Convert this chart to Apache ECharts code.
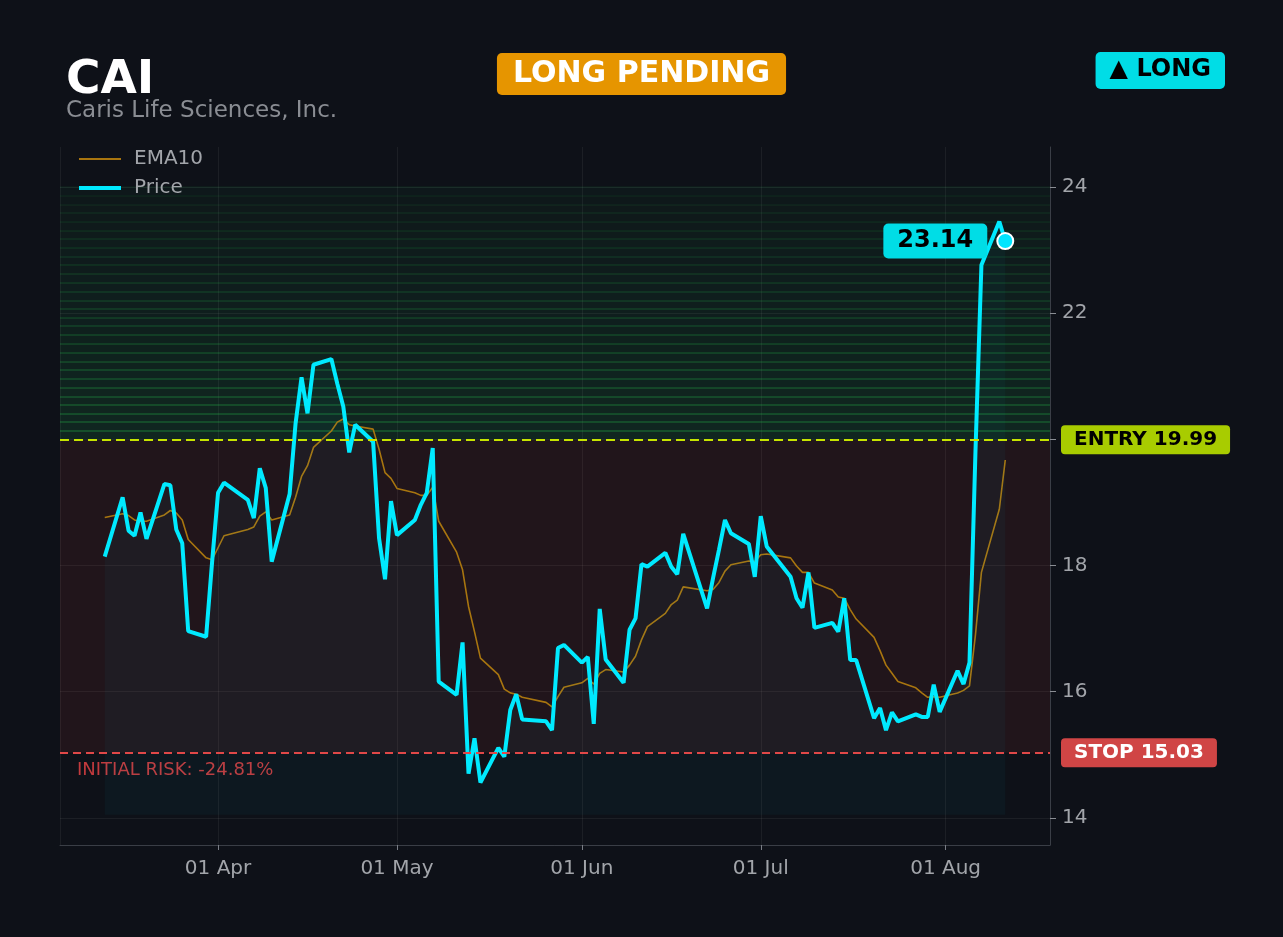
<!DOCTYPE html>
<html>
<head>
<meta charset="utf-8">
<script src="https://cdn.jsdelivr.net/npm/echarts@6/dist/echarts.min.js"></script>
<style>
html,body{margin:0;padding:0;background:#0e1118;}
#main{width:1283px;height:937px;}
</style>
</head>
<body>
<div id="main"></div>
<script>
// trading days (2026)
var dates = [
  '2026-03-13','2026-03-16','2026-03-17','2026-03-18','2026-03-19','2026-03-20','2026-03-23','2026-03-24','2026-03-25','2026-03-26','2026-03-27','2026-03-30','2026-03-31',
  '2026-04-01','2026-04-02','2026-04-06','2026-04-07','2026-04-08','2026-04-09','2026-04-10','2026-04-13','2026-04-14','2026-04-15','2026-04-16','2026-04-17','2026-04-20','2026-04-21','2026-04-22','2026-04-23','2026-04-24','2026-04-27','2026-04-28','2026-04-29','2026-04-30',
  '2026-05-01','2026-05-04','2026-05-05','2026-05-06','2026-05-07','2026-05-08','2026-05-11','2026-05-12','2026-05-13','2026-05-14','2026-05-15','2026-05-18','2026-05-19','2026-05-20','2026-05-21','2026-05-22','2026-05-26','2026-05-27','2026-05-28','2026-05-29',
  '2026-06-01','2026-06-02','2026-06-03','2026-06-04','2026-06-05','2026-06-08','2026-06-09','2026-06-10','2026-06-11','2026-06-12','2026-06-15','2026-06-16','2026-06-17','2026-06-18','2026-06-22','2026-06-23','2026-06-24','2026-06-25','2026-06-26','2026-06-29','2026-06-30',
  '2026-07-01','2026-07-02','2026-07-06','2026-07-07','2026-07-08','2026-07-09','2026-07-10','2026-07-13','2026-07-14','2026-07-15','2026-07-16','2026-07-17','2026-07-20','2026-07-21','2026-07-22','2026-07-23','2026-07-24','2026-07-27','2026-07-28','2026-07-29','2026-07-30','2026-07-31',
  '2026-08-03','2026-08-04','2026-08-05','2026-08-06','2026-08-07','2026-08-10','2026-08-11'
];
var price = [
  18.14,19.08,18.55,18.47,18.84,18.42,19.29,19.27,18.57,18.35,16.96,16.87,18.05,
  19.15,19.31,19.04,18.75,19.54,19.23,18.06,19.13,20.25,20.98,20.41,21.18,21.27,20.88,20.52,19.79,20.23,19.96,18.43,17.78,19.02,
  18.48,18.72,18.96,19.15,19.86,16.16,15.95,16.78,14.70,15.26,14.56,15.11,14.97,15.71,15.96,15.56,15.53,15.39,16.69,16.74,
  16.46,16.55,15.49,17.31,16.51,16.14,16.98,17.16,18.02,17.98,18.20,17.98,17.86,18.50,17.32,17.80,18.25,18.72,18.51,18.34,17.82,
  18.78,18.30,17.82,17.48,17.33,17.89,17.01,17.09,16.95,17.48,16.50,16.50,15.58,15.74,15.39,15.67,15.53,15.64,15.60,15.60,16.11,15.68,
  16.33,16.12,16.46,19.80,22.76,23.45,23.14
];
var ema10 = [
  18.76,18.82,18.79,18.72,18.70,18.70,18.80,18.87,18.83,18.72,18.41,18.12,18.09,
  18.28,18.47,18.57,18.61,18.78,18.85,18.72,18.80,19.08,19.41,19.58,19.87,20.13,20.27,20.32,20.23,20.21,20.16,19.84,19.47,19.38,
  19.22,19.15,19.11,19.11,19.24,18.70,18.21,17.93,17.35,16.95,16.53,16.27,16.04,15.98,15.96,15.91,15.83,15.76,15.92,16.07,
  16.14,16.21,16.12,16.29,16.35,16.31,16.42,16.56,16.82,17.03,17.24,17.38,17.45,17.66,17.60,17.62,17.73,17.91,18.01,18.07,18.06,
  18.17,18.18,18.12,17.99,17.89,17.89,17.72,17.61,17.50,17.48,17.30,17.15,16.86,16.65,16.42,16.29,16.16,16.06,15.98,15.91,15.92,15.91,
  15.98,16.02,16.09,16.90,17.89,18.89,19.67
];
var ticker = 'CAI';
var company = 'Caris Life Sciences, Inc.';
var status = 'LONG PENDING';
var side = '▲ LONG';
var entryPrice = 19.99;
var stopPrice = 15.03;
var targetTop = 24;
var riskPct = -24.81;

var font = 'DejaVu Sans';
var myChart = echarts.init(document.getElementById('main'));

var priceData = dates.map(function (d, i) { return [d, price[i]]; });
var emaData = dates.map(function (d, i) { return [d, ema10[i]]; });
var last = dates.length - 1;

// risk zone + green target zone drawn as stacked bands, fading upwards
var areas = [[{ yAxis: stopPrice, itemStyle: { color: 'rgba(239,68,68,0.085)' } }, { yAxis: entryPrice }]];
var stripes = [];
var nBands = 29;
for (var i = 0; i < nBands; i++) {
    var lo = entryPrice + (targetTop - entryPrice) * i / nBands;
    var hi = entryPrice + (targetTop - entryPrice) * (i + 1) / nBands;
    var t = i / (nBands - 1);
    var a = 0.12 - 0.08 * t;
    areas.push([{ yAxis: lo, itemStyle: { color: 'rgba(34,197,94,' + a.toFixed(3) + ')' } }, { yAxis: hi }]);
    stripes.push({
        yAxis: hi,
        lineStyle: { color: 'rgba(40,200,80,' + (0.34 - 0.27 * t).toFixed(3) + ')', type: 'solid', width: 1.5 },
        label: { show: false }
    });
}

var option = {
    backgroundColor: '#0e1118',
    animation: false,
    title: [
        {
            text: ticker, subtext: company, left: 61, top: 52, padding: 5, itemGap: -4,
            textStyle: { color: '#ffffff', fontSize: 47, fontWeight: 'bold', fontFamily: font },
            subtextStyle: { color: '#8a8d93', fontSize: 23, fontFamily: font }
        },
        {
            text: status, left: 'center', top: 53, backgroundColor: '#e69500', borderRadius: 5, padding: [6, 16, 6, 16],
            textStyle: { color: '#ffffff', fontSize: 30, fontWeight: 'bold', fontFamily: font }
        },
        {
            text: side, right: 58, top: 52, backgroundColor: '#00dde6', borderRadius: 5, padding: [6, 14, 7, 14],
            textStyle: { color: '#000000', fontSize: 24, fontWeight: 'bold', fontFamily: font }
        }
    ],
    legend: {
        orient: 'vertical', left: 72, top: 144, itemWidth: 42, itemHeight: 20, itemGap: 9,
        itemStyle: { opacity: 0 },
        data: [
            { name: 'EMA10', lineStyle: { width: 2 } },
            { name: 'Price', lineStyle: { width: 4 } }
        ],
        textStyle: { color: '#a2a5aa', fontSize: 20, fontFamily: font, padding: [0, 0, 0, 8] }
    },
    grid: { left: 60, right: 233, top: 147, bottom: 92 },
    xAxis: {
        type: 'time',
        min: new Date(2026, 2, 5, 12).getTime(),
        max: new Date(2026, 7, 18, 12).getTime(),
        splitNumber: 5,
        axisLine: { lineStyle: { color: '#3a3e46' } },
        axisTick: { show: true, length: 5, lineStyle: { color: '#7a7e86' } },
        axisLabel: { color: '#a2a5aa', fontSize: 20, fontFamily: font, margin: 14, formatter: '{dd} {MMM}', showMinLabel: false, showMaxLabel: false },
        splitLine: { show: true, lineStyle: { color: 'rgba(255,255,255,0.06)' } }
    },
    yAxis: {
        type: 'value', position: 'right', min: 13.57, max: 24.63, splitNumber: 5,
        axisLine: { show: true, lineStyle: { color: '#3a3e46' } },
        axisTick: { show: true, length: 6, lineStyle: { color: '#8a8d93' } },
        axisLabel: { color: '#a2a5aa', fontSize: 20, fontFamily: font, margin: 12, padding: [3, 0, 0, 0], showMinLabel: false, showMaxLabel: false },
        splitLine: { lineStyle: { color: 'rgba(255,255,255,0.06)' }, showMinLine: false, showMaxLine: false }
    },
    graphic: [{
        type: 'text', left: 77, top: 761,
        style: { text: 'INITIAL RISK: ' + riskPct.toFixed(2) + '%', fill: '#c23a3d', font: '18px "DejaVu Sans"' }
    }],
    series: [
        {
            name: 'EMA10', type: 'line', data: emaData, symbol: 'none', z: 3,
            lineStyle: { color: '#a8750f', width: 1.6 },
            itemStyle: { color: '#a8750f' },
            markArea: { silent: true, data: areas },
            markLine: { silent: true, symbol: 'none', z: 1, data: stripes }
        },
        {
            name: 'Price', type: 'line', data: priceData, symbol: 'none', z: 4,
            lineStyle: { color: '#00eaff', width: 4 },
            itemStyle: { color: '#00eaff' },
            areaStyle: { origin: 14.05, color: 'rgba(0,229,255,0.05)' },
            markLine: {
                silent: true, symbol: 'none',
                data: [
                    {
                        yAxis: entryPrice,
                        lineStyle: { color: '#c6e400', type: [9, 5], width: 2 },
                        label: {
                            position: 'end', distance: 11, formatter: 'ENTRY ' + entryPrice.toFixed(2),
                            backgroundColor: '#a8cc00', color: '#000000', fontWeight: 'bold', fontSize: 20, fontFamily: font,
                            padding: [5, 13, 4, 13], borderRadius: 4
                        }
                    },
                    {
                        yAxis: stopPrice,
                        lineStyle: { color: '#e04848', type: [8, 5], width: 2 },
                        label: {
                            position: 'end', distance: 11, formatter: 'STOP ' + stopPrice.toFixed(2),
                            backgroundColor: '#d04545', color: '#ffffff', fontWeight: 'bold', fontSize: 20, fontFamily: font,
                            padding: [5, 13, 4, 13], borderRadius: 4
                        }
                    }
                ]
            },
            markPoint: {
                silent: true,
                data: [{
                    coord: [dates[last], price[last]],
                    symbol: 'circle', symbolSize: 16,
                    itemStyle: { color: '#00e5ff', borderColor: '#ffffff', borderWidth: 2 },
                    label: {
                        show: true, position: 'left', distance: 9, formatter: price[last].toFixed(2),
                        backgroundColor: '#00dde6', color: '#000000', fontWeight: 'bold', fontSize: 24, fontFamily: font,
                        padding: [6, 14, 5, 14], borderRadius: 5
                    }
                }]
            }
        }
    ]
};
myChart.setOption(option);
</script>
</body>
</html>
